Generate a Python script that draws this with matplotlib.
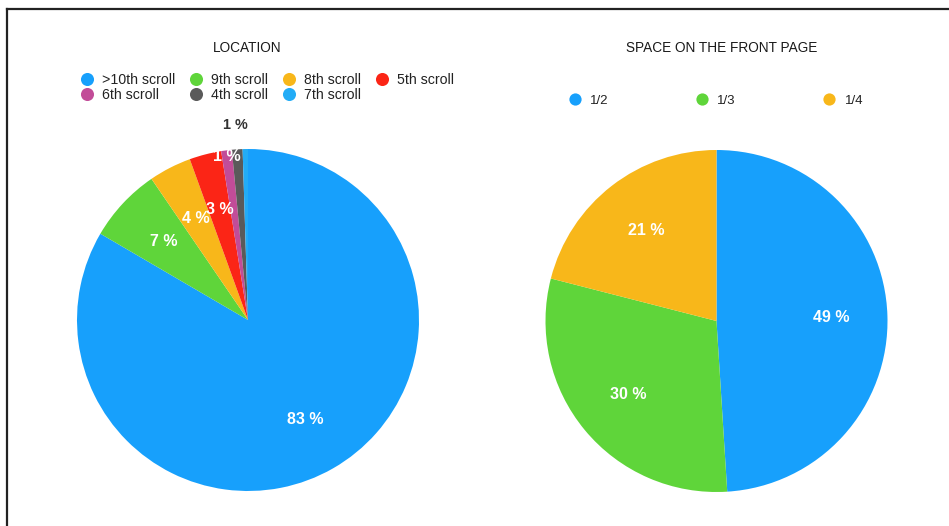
import matplotlib.pyplot as plt
import numpy as np
from matplotlib.lines import Line2D

plt.rcParams['font.family'] = ['Liberation Sans', 'DejaVu Sans']

# location of the article (scroll depth), clockwise from 12 o'clock
loc_labels = ['>10th scroll', '9th scroll', '8th scroll', '5th scroll',
              '6th scroll', '4th scroll', '7th scroll']
loc_values = [83, 7, 4, 3, 1, 1, 0.5]
loc_colors = ['#17a0fc', '#5fd53a', '#f8b71a', '#fb2516',
              '#c24c98', '#5a5a5a', '#23acf6']

# share of the front page
space_labels = ['1/2', '1/3', '1/4']
space_values = [49, 30, 21]
space_colors = ['#17a0fc', '#5fd53a', '#f8b71a']

W, H = 949, 526
fig = plt.figure(figsize=(W / 100, H / 100), dpi=100)
fig.patch.set_facecolor('white')


def px(x, y):
    return x / W, 1 - y / H


def draw_pie(rect, values, colors):
    ax = fig.add_axes(rect)
    wedges, _ = ax.pie(values, colors=colors, startangle=90, counterclock=False,
                       wedgeprops=dict(linewidth=0))
    ax.set_xlim(-1, 1)
    ax.set_ylim(-1, 1)
    ax.set_aspect('equal')
    ax.axis('off')
    small = 0
    for w, v in zip(wedges, values):
        if v < 1:
            continue
        th = np.deg2rad((w.theta1 + w.theta2) / 2)
        r, col, fs = 0.67, 'white', 11.5
        if v <= 1:
            # thin slices: first one near the rim, next one outside
            r, col, fs = (0.965, 'white', 11.5) if small == 0 else (1.14, '#333333', 10.4)
            small += 1
        ax.text(r * np.cos(th), r * np.sin(th), f'{v:g} %', ha='center', va='center',
                color=col, fontsize=fs, fontweight='bold', clip_on=False)
    return ax


ax1 = draw_pie([77 / W, 35 / H, 342 / W, 342 / H], loc_values, loc_colors)
ax2 = draw_pie([545.5 / W, 34 / H, 342 / W, 342 / H], space_values, space_colors)

fig.text(*px(247, 48), 'LOCATION', ha='center', va='center', fontsize=9.8, color='#1a1a1a')
fig.text(*px(722, 48), 'SPACE ON THE FRONT PAGE', ha='center', va='center',
         fontsize=9.8, color='#1a1a1a')


def handle(c, ms):
    return Line2D([], [], marker='o', linestyle='none', markersize=ms,
                  markerfacecolor=c, markeredgewidth=0)


# legend rows are filled left to right, matplotlib fills by column
order = [0, 4, 1, 5, 2, 6, 3]
leg1 = fig.legend([handle(loc_colors[i], 9.4) for i in order],
                  [loc_labels[i] for i in order],
                  ncol=4, loc='upper left', bbox_to_anchor=px(79.8, 72.5),
                  frameon=False, fontsize=10.2, handlelength=1.0, handletextpad=0.55,
                  columnspacing=0.98, labelspacing=0.1, borderpad=0, borderaxespad=0)
for t in leg1.get_texts():
    t.set_color('#222222')

leg2 = fig.legend([handle(c, 8.8) for c in space_colors], space_labels,
                  ncol=3, loc='upper left', bbox_to_anchor=px(568.4, 94.5),
                  frameon=False, fontsize=9.5, handlelength=1.0, handletextpad=0.64,
                  columnspacing=6.6, borderpad=0, borderaxespad=0)
for t in leg2.get_texts():
    t.set_color('#222222')

# frame lines along the top and left edges
fig.add_artist(Line2D([7 / W, 1], [1 - 9 / H, 1 - 9 / H], color='#222222', linewidth=1.6))
fig.add_artist(Line2D([7 / W, 7 / W], [0, 1 - 9 / H], color='#222222', linewidth=1.6))

fig.savefig('out.png', dpi=100)
